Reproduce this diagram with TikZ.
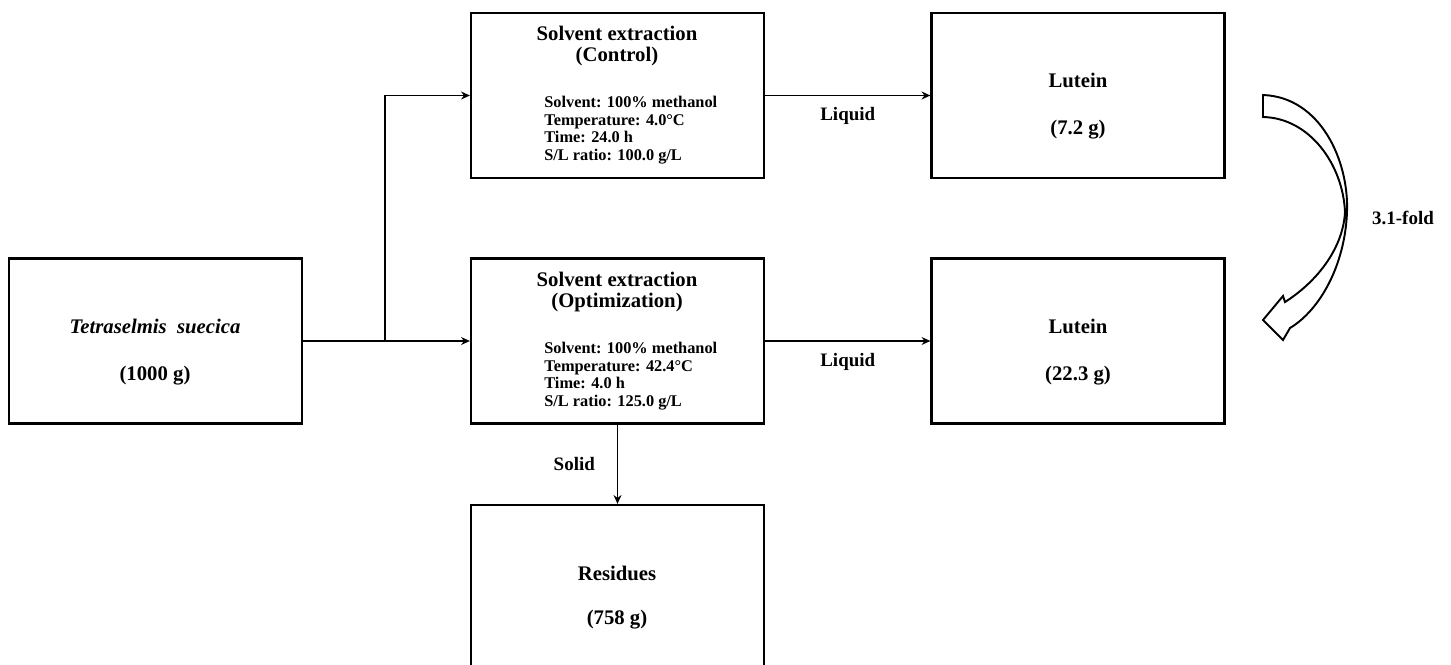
\documentclass[tikz,border=0pt]{standalone}
\usepackage{fontspec}
\setmainfont{Liberation Serif}
\usetikzlibrary{arrows.meta}
\tikzset{
  box/.style={draw, line width=1.3pt, rectangle, minimum width=5.86cm, minimum height=3.3cm, inner sep=0pt},
  title/.style={font=\fontsize{11.8}{13.5}\selectfont\bfseries, align=center},
  detail/.style={font=\fontsize{9.3}{10}\selectfont\bfseries, align=left, anchor=north west, inner sep=0pt},
  lbl/.style={font=\fontsize{10.8}{12}\selectfont\bfseries},
  conn/.style={line width=1.1pt, -{Stealth[length=5pt,width=4.5pt]}},
  seg/.style={line width=1.1pt}
}
\begin{document}
\begin{tikzpicture}[x=0.02cm,y=-0.02cm]
\useasboundingbox (0,0) rectangle (1451,664);
\begin{scope}
\clip (0,0) rectangle (1451,664);
% boxes
\node[box] (src) at (155.5,341) {};
\node[box] (ctl) at (617.5,95.5) {};
\node[box] (opt) at (617.5,341) {};
\node[box] (lu1) at (1078,95.5) {};
\node[box] (lu2) at (1078,341) {};
\node[box, minimum height=3.7cm] (res) at (617.5,597.5) {};
% texts
\node[title, font=\fontsize{11.8}{13.5}\selectfont\bfseries\itshape] (srcA) at (155,326) {Tetraselmis\ \ suecica};
\node[title] (srcB) at (155,376) {(1000 g)};
\node[title] (ctlA) at (617,33) {Solvent extraction};
\node[title] (ctlB) at (617,57) {(Control)};
\node[detail] (ctlD) at (544,96) {Solvent: 100\% methanol\\Temperature: 4.0\textdegree C\\Time: 24.0 h\\S/L ratio: 100.0 g/L};
\node[title] (optA) at (617,279) {Solvent extraction};
\node[title] (optB) at (617,303) {(Optimization)};
\node[detail] (optD) at (544,342) {Solvent: 100\% methanol\\Temperature: 42.4\textdegree C\\Time: 4.0 h\\S/L ratio: 125.0 g/L};
\node[title] (lu1A) at (1078,80) {Lutein};
\node[title] (lu1B) at (1078,130) {(7.2 g)};
\node[title] (lu2A) at (1078,326) {Lutein};
\node[title] (lu2B) at (1078,376) {(22.3 g)};
\node[title] (resA) at (617,573) {Residues};
\node[title] (resB) at (617,620) {(758 g)};
\end{scope}
% connectors
\coordinate (jn) at (385,341);
\draw[seg] (src.east) -- (jn);
\draw[conn] (jn) -- (opt.west);
\draw[conn] (jn) |- (ctl.west);
\draw[conn] (ctl.east) -- node[lbl, below=3pt] (liq1) {Liquid} (lu1.west);
\draw[conn] (opt.east) -- node[lbl, below=3pt] (liq2) {Liquid} (lu2.west);
\draw[conn] (opt.south) -- node[lbl, left=9pt] (sol) {Solid} (res.north);
% curved block arrow
\draw[line width=1.1pt, line join=miter]
  (1263,95) .. controls (1320,97) and (1349,160) .. (1347,212)
  .. controls (1345,265) and (1320,310) .. (1290,328)
  -- (1283,340) -- (1263,320) -- (1283,296) -- (1285,302)
  .. controls (1315,283) and (1343,250) .. (1345,212)
  .. controls (1343,165) and (1310,118) .. (1263,117) -- cycle;
\node[lbl] (fold) at (1403,218) {3.1-fold};
\end{tikzpicture}
\end{document}
